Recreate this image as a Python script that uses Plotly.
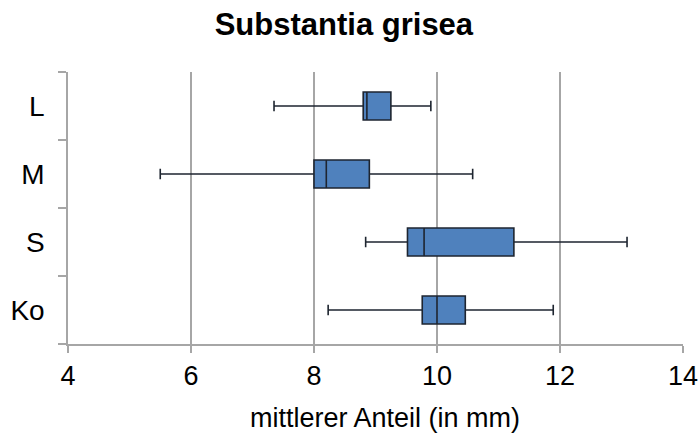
import plotly.graph_objects as go

categories = ["L", "M", "S", "Ko"]
lower_whisker = [7.35, 5.50, 8.84, 8.23]
q1_values = [8.80, 8.00, 9.52, 9.76]
median_values = [8.86, 8.20, 9.79, 10.00]
q3_values = [9.25, 8.90, 11.25, 10.46]
upper_whisker = [9.90, 10.58, 13.09, 11.89]
x_ticks = [4, 6, 8, 10, 12, 14]

FONT = "Liberation Sans, Arial, sans-serif"
GRID = "#A6A6A6"

fig = go.Figure()
fig.add_trace(go.Box(
    y=categories,
    q1=q1_values,
    median=median_values,
    q3=q3_values,
    lowerfence=lower_whisker,
    upperfence=upper_whisker,
    orientation="h",
    fillcolor="#4F81BD",
    line=dict(color="#1E2530", width=1.6),
    width=0.41,
    whiskerwidth=0.38,
    boxpoints=False,
    hoverinfo="x",
    showlegend=False,
))

fig.update_layout(
    width=699, height=434,
    margin=dict(l=68, r=16, t=72, b=90, autoexpand=False),
    paper_bgcolor="white", plot_bgcolor="white",
    font=dict(family=FONT, color="black"),
    title=dict(text="<b>Substantia grisea</b>", font=dict(size=31, family=FONT, color="black"),
               x=0.492, xref="container", xanchor="center",
               y=0.944, yref="container", yanchor="middle"),
    xaxis=dict(range=[4, 14], tickvals=x_ticks, showgrid=True, gridcolor=GRID, gridwidth=1.5,
               showline=True, linecolor=GRID, linewidth=1.5, ticks="outside", ticklen=7,
               tickcolor=GRID, tickwidth=1.5, tickfont=dict(size=27, family=FONT, color="black"),
               zeroline=False, mirror=False, automargin=False),
    yaxis=dict(type="category", categoryorder="array", categoryarray=categories[::-1],
               range=[-0.5, 3.5], showgrid=False, showline=True, linecolor=GRID, linewidth=1.5,
               ticks="outside", tickson="boundaries", ticklen=8, tickcolor=GRID, tickwidth=1.5,
               tickfont=dict(size=28, family=FONT, color="black"), ticklabelstandoff=16,
               zeroline=False, automargin=False),
    annotations=[dict(text="mittlerer Anteil (in mm)", xref="paper", yref="paper",
                      x=0.516, y=-0.272, xanchor="center", yanchor="middle", showarrow=False,
                      font=dict(size=27, family=FONT, color="black"))],
)

fig.write_html(
    "out.html",
    config={"displayModeBar": False},
    post_script="document.body.style.margin='0';document.body.style.overflow='hidden';",
)
